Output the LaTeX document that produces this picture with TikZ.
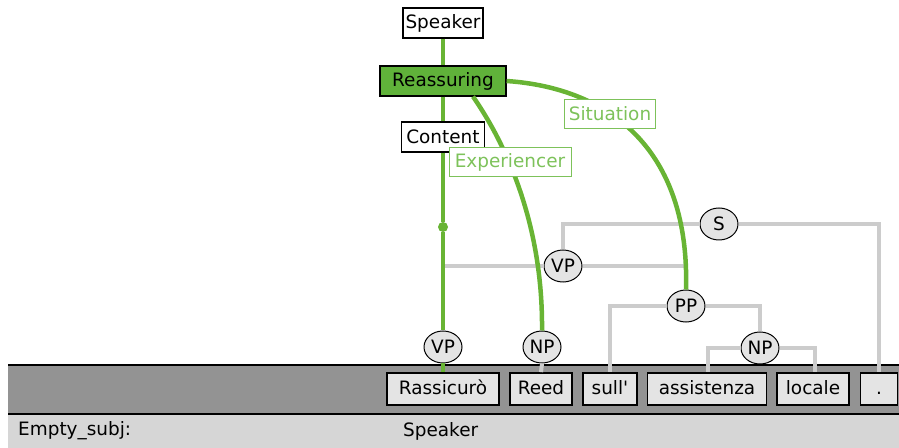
\documentclass[tikz,border=0pt]{standalone}
\usepackage{fontspec}
\setmainfont{DejaVu Sans}
\usetikzlibrary{shapes.geometric}
\definecolor{framegreen}{RGB}{104,180,52}
\definecolor{fillgreen}{RGB}{96,178,58}
\definecolor{labelgreen}{RGB}{125,194,90}
\definecolor{treegray}{RGB}{204,204,204}
\definecolor{nodegray}{RGB}{228,228,228}
\definecolor{bandgray}{RGB}{147,147,147}
\definecolor{stripgray}{RGB}{214,214,214}
\begin{document}
\begin{tikzpicture}[x=1bp, y=-1bp,
    every node/.style={font=\fontsize{18.5}{21}\selectfont},
    fe/.style={draw, line width=1.2bp, fill=white, inner sep=0pt, minimum height=30bp},
    role/.style={draw=labelgreen, line width=1bp, fill=white, text=labelgreen, inner sep=0pt, minimum height=29bp},
    cat/.style={ellipse, draw, line width=1bp, fill=nodegray, inner sep=0pt, minimum width=38bp, minimum height=32bp},
    word/.style={draw, line width=1.8bp, fill=nodegray, inner sep=0pt, text height=14bp, text depth=4bp, minimum height=32bp},
    tree/.style={treegray, line width=4bp},
    link/.style={framegreen, line width=4.5bp}]
    \useasboundingbox (0, 0) rectangle (899, 448);

    % band and strip
    \fill[bandgray] (8, 365) rectangle (899, 414);
    \fill[stripgray] (8, 414) rectangle (899, 448);
    \draw[line width=2bp] (8, 365) -- (899, 365);
    \draw[line width=2bp] (8, 414) -- (899, 414);
    \node[anchor=west, inner sep=0pt] at (18, 431) (Subj) {Empty\_subj:};
    \node[anchor=west, inner sep=0pt] at (403, 431) (SubjVal) {Speaker};

    % words
    \node[word, minimum width=112bp] at (443, 389) (Rass) {Rassicurò};
    \node[word, minimum width=62bp] at (541, 389) (Reed) {Reed};
    \node[word, minimum width=54bp] at (610, 389) (Sull) {sull\textquotesingle};
    \node[word, minimum width=119bp] at (707, 389) (Assist) {assistenza};
    \node[word, minimum width=72bp] at (813, 389) (Locale) {locale};
    \node[word, minimum width=37bp] at (879, 389) (Stop) {.};

    % syntax tree
    \node[cat] at (443, 347) (VPa) {VP};
    \node[cat] at (542, 347) (NPa) {NP};
    \node[cat] at (760, 348) (NPb) {NP};
    \node[cat] at (686, 306) (PP) {PP};
    \node[cat] at (563, 266) (VPb) {VP};
    \node[cat] at (719, 224) (S) {S};

    \draw[tree] (S.west) -| (VPb.north);
    \draw[tree] (S.east) -| (Stop.north);
    \draw[tree] (VPb.west) -| (VPa.north);
    \draw[tree] (VPb.east) -| (PP.north);
    \draw[tree] (PP.west) -| (Sull.north);
    \draw[tree] (PP.east) -| (NPb.north);
    \draw[tree] (NPb.west) -| ([xshift=1bp]Assist.north);
    \draw[tree] (NPb.east) -| ([xshift=2bp]Locale.north);
    \draw[tree] (NPa.south) -- (Reed.north);

    % frame
    \node[fe, minimum width=80bp] at (443, 23) (Speaker) {Speaker};
    \node[fe, fill=fillgreen, minimum width=126bp] at (443, 81) (Reass) {Reassuring};
    \node[fe, minimum width=83bp] at (443, 137) (Content) {Content};
    \node[circle, fill=framegreen, inner sep=0pt, minimum size=10bp] at (443, 227) (Dot) {};

    \draw[link] (Speaker.south) -- (Reass.north);
    \draw[link] (Reass.south) -- (Content.north);
    \draw[link] (Content.south) -- (Dot) -- (VPa.north);
    \draw[link] (VPa.south) -- (Rass.north);
    \draw[link] ([xshift=30bp]Reass.south) .. controls (510, 150) and (543, 230) .. (NPa.north);
    \draw[link] (Reass.east) .. controls (610, 88) and (690, 150) .. (PP.north);

    \node[role, minimum width=122bp] at (510, 162) (Exp) {Experiencer};
    \node[role, minimum width=91bp] at (610, 114) (Sit) {Situation};
\end{tikzpicture}
\end{document}
